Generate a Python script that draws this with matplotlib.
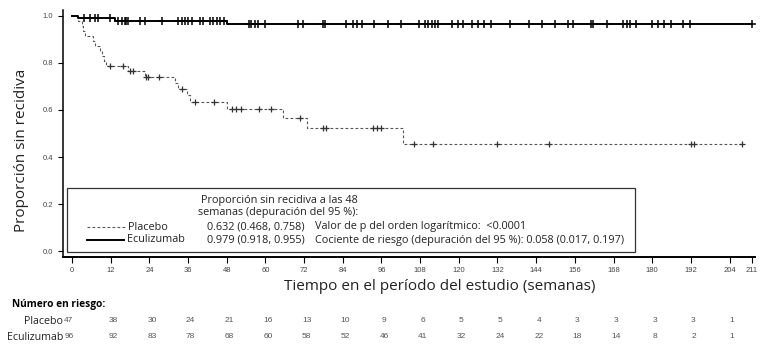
import numpy as np
import matplotlib
matplotlib.use("Agg")
import matplotlib.pyplot as plt
from matplotlib.lines import Line2D
from matplotlib.patches import Rectangle
from matplotlib.transforms import blended_transform_factory

# Kaplan-Meier steps (time in weeks, level after the step)
placebo_t = [0, 1.9, 3.0, 3.5, 4.0, 6.5, 7.0, 8.7, 9.3, 9.8, 10.5,
             17.5, 22.7, 32.0, 33.0, 35.6, 36.5, 48.0, 65.6, 72.8, 102.8]
placebo_s = [1.0, 0.979, 0.957, 0.936, 0.915, 0.894, 0.872, 0.851, 0.830, 0.809, 0.787,
             0.764, 0.741, 0.716, 0.690, 0.663, 0.636, 0.605, 0.566, 0.523, 0.456]
placebo_end = 208
placebo_cens = [11.8, 15.9, 18, 19, 23.0, 23.7, 27.1, 34, 38, 43.9, 49.6, 50.9, 52.4,
                58.1, 61.8, 70.8, 78, 78.8, 93.3, 94.6, 95.9, 106, 112, 132, 148,
                192, 193, 208]

ecu_t = [0, 1.9, 13.4, 48.0]
ecu_s = [1.0, 0.990, 0.979, 0.966]
ecu_end = 211
ecu_cens = [3.8, 5.6, 7, 8.2, 11.8,
            14.4, 15.4, 16.4, 16.9, 17.4, 21.1, 22.7, 27.8, 33, 34, 35.1, 36.1, 37.2,
            39.7, 40.5, 42.8, 43.8, 44.9, 45.9, 47,
            54.9, 55.6, 56.8, 57.8, 59.9, 70, 71.8, 77.8, 78.5, 85, 87.3, 88.4, 89.9,
            93.8, 98, 102, 107.7, 109.6, 110.5, 111.7, 112.7, 113.6, 117.9, 119.8,
            121.4, 124.1, 126, 127.9, 130, 135.9, 141.8, 145.8, 149.9, 153.9, 155.5,
            161, 161.7, 166, 171, 172.3, 173.2, 175, 180, 181.9, 183.7, 185.9, 189.6,
            191.8, 211]

xticks = list(range(0, 205, 12)) + [211]
risk_weeks = list(range(0, 205, 12))
risk_placebo = [47, 38, 30, 24, 21, 16, 13, 10, 9, 6, 5, 5, 4, 3, 3, 3, 3, 1]
risk_ecu = [96, 92, 83, 78, 68, 60, 58, 52, 46, 41, 32, 24, 22, 18, 14, 8, 2, 1]

W, H = 761, 345
fig = plt.figure(figsize=(W / 100, H / 100), dpi=100)


def fx(x):
    return x / W


def fy(y):
    return 1 - y / H


ax = fig.add_axes([fx(63), fy(257), fx(755) - fx(63), fy(10) - fy(257)])
ax.set_xlim(-2.8, 211.9)
ax.set_ylim(-0.0255, 1.0255)


def level_at(t, times, levels):
    idx = np.searchsorted(times, t, side="right") - 1
    return np.array(levels)[idx]


# curves
ax.step(placebo_t + [placebo_end], placebo_s + [placebo_s[-1]], where="post",
        color="#555555", lw=0.8, dashes=(2.5, 2))
ax.plot(placebo_cens, level_at(placebo_cens, placebo_t, placebo_s), "+",
        color="#333333", ms=5, mew=0.9)
ax.step(ecu_t + [ecu_end], ecu_s + [ecu_s[-1]], where="post", color="black", lw=1.4)
ax.plot(ecu_cens, level_at(ecu_cens, ecu_t, ecu_s), "+", color="black", ms=5.5, mew=1.1)

for s in ["top", "right"]:
    ax.spines[s].set_visible(False)
ax.spines["left"].set_linewidth(1.1)
ax.spines["bottom"].set_linewidth(1.4)

ax.set_yticks([0, 0.2, 0.4, 0.6, 0.8, 1.0])
ax.set_yticklabels(["0.0", "0.2", "0.4", "0.6", "0.8", "1.0"])
ax.set_xticks(xticks)
ax.set_xticklabels([str(v) for v in xticks])
ax.tick_params(axis="y", length=3.6, width=0.8, pad=3.6, labelsize=5.5,
               labelcolor="#444444", direction="out")
ax.tick_params(axis="x", length=4, width=0.8, pad=3, labelsize=5.5,
               labelcolor="#444444", direction="out")
for lab in ax.get_xticklabels() + ax.get_yticklabels():
    lab.set_family("Liberation Sans")

fig.text(fx(22), fy(150), "Proporción sin recidiva", rotation=90, ha="center",
         va="center", fontsize=11, family="Open Sans", color="#222222")
fig.text(fx(440), fy(287), "Tiempo en el período del estudio (semanas)", ha="center",
         va="center", fontsize=11, family="Open Sans", color="#222222")

# legend box inside the axes
ax.add_patch(Rectangle((fx(67), fy(252)), fx(635) - fx(67), fy(188) - fy(252),
                       transform=fig.transFigure, fill=False, ec="#333333", lw=0.9,
                       zorder=5))
lf = dict(fontsize=7.8, family="Open Sans", color="#222222", va="center")
fig.text(fx(201), fy(200), "Proporción sin recidiva a las 48", **lf)
fig.text(fx(198), fy(213), "semanas (depuración del 95 %):", **lf)
fig.text(fx(128), fy(227), "Placebo", **lf)
fig.text(fx(127), fy(240), "Eculizumab", **lf)
fig.text(fx(207), fy(227), "0.632 (0.468, 0.758)", **lf)
fig.text(fx(207), fy(240), "0.979 (0.918, 0.955)", **lf)
fig.text(fx(315), fy(227), "Valor de p del orden logarítmico:  <0.0001", **lf)
fig.text(fx(315), fy(240), "Cociente de riesgo (depuración del 95 %): 0.058 (0.017, 0.197)", **lf)
fig.add_artist(Line2D([fx(87), fx(125)], [fy(227), fy(227)], color="#555555", lw=0.8,
                      dashes=(2.5, 2)))
fig.add_artist(Line2D([fx(87), fx(124)], [fy(240), fy(240)], color="black", lw=1.4))

# number at risk table
fig.text(fx(12), fy(304), "Número en riesgo:", fontsize=7.3, family="Open Sans",
         weight="bold", va="center")
rf = dict(fontsize=7.7, family="Open Sans", va="center", ha="right", color="#222222")
fig.text(fx(63), fy(321), "Placebo", **rf)
fig.text(fx(63), fy(337), "Eculizumab", **rf)
nf = dict(fontsize=6, family="Liberation Sans", va="center", ha="center", color="#555555")
tr = blended_transform_factory(ax.transData, fig.transFigure)
for i, w in enumerate(risk_weeks):
    x = w + 0.8 if w > 0 else -1.0
    ax.text(x, fy(320), str(risk_placebo[i]), transform=tr, **nf)
    ax.text(x, fy(337), str(risk_ecu[i]), transform=tr, **nf)

fig.savefig("out.png", dpi=100)
